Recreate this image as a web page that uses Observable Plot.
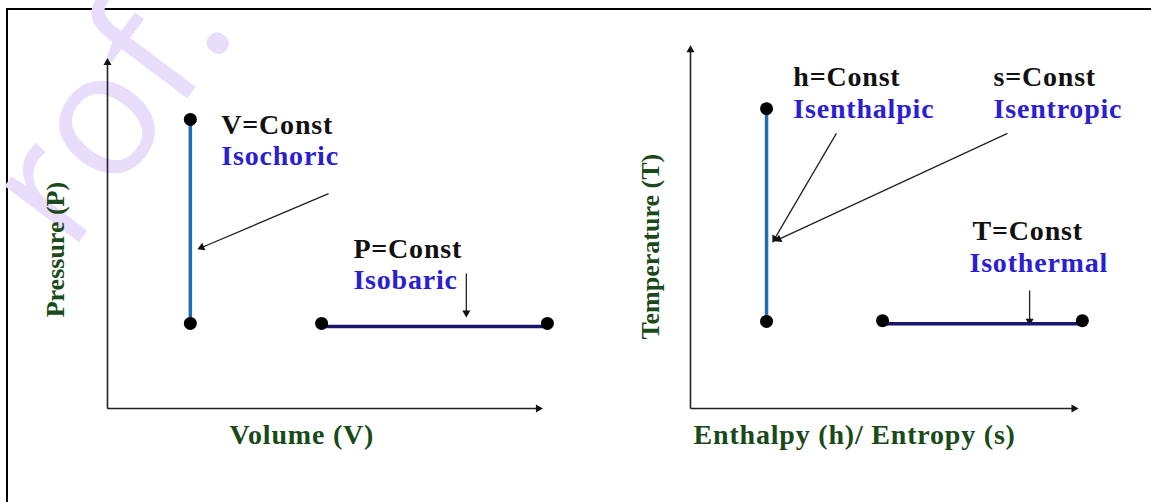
<!DOCTYPE html>
<html><head><meta charset="utf-8">
<script src="https://cdn.jsdelivr.net/npm/d3@7"></script>
<script src="https://cdn.jsdelivr.net/npm/@observablehq/plot@0.6"></script>
<style>
html,body{margin:0;padding:0;background:#fff;overflow:hidden}
#wrap{position:relative;width:1151px;height:502px;overflow:hidden;background:#fff}
#border{position:absolute;left:6px;top:8px;width:1300px;height:700px;border-left:2px solid #000;border-top:2px solid #000}
.panel{position:absolute;top:0}
</style></head><body>
<div id="wrap"><div id="border"></div><div id="left" class="panel" style="left:0"></div><div id="right" class="panel" style="left:575px"></div></div>
<script>
// ---------- data (diagram units: each axis runs 0..10) ----------
const axisArrows = [{x1:0,y1:0,x2:9.88,y2:0},{x1:0,y1:0,x2:0,y2:9.88}];

// P–V diagram
const pvIsochoric = [{x:1.9,y:2.43},{x:1.9,y:8.26}];
const pvIsobaric  = [{x:4.91,y:2.43},{x:10.09,y:2.43}];
const pvEquations = [{x:2.61,y:8.09,text:"V=Const"},{x:5.64,y:4.57,text:"P=Const"}];
const pvNames     = [{x:2.61,y:7.2,text:"Isochoric"},{x:5.64,y:3.66,text:"Isobaric"}];
const pvPointers  = [{x1:5.07,y1:6.14,x2:2.16,y2:4.6},{x1:8.23,y1:3.86,x2:8.23,y2:2.73}];
const pvXTitle    = [{x:2.8,y:-0.77,text:"Volume (V)"}];
const pvYTitle    = [{x:-1.19,y:4.54,text:"Pressure (P)"}];
const watermark   = [{x:0.05,y:8.57,text:"rof."}];

// T–(h/s) diagram
const tsIsentropic = [{x:1.96,y:2.4},{x:1.96,y:8.26}];
const tsIsothermal = [{x:4.95,y:2.42},{x:10.1,y:2.42}];
const tsEquations  = [{x:2.65,y:9.12,text:"h=Const"},{x:7.81,y:9.12,text:"s=Const"},{x:7.27,y:4.9,text:"T=Const"}];
const tsNames      = [{x:2.65,y:8.26,text:"Isenthalpic"},{x:7.81,y:8.26,text:"Isentropic"},{x:7.19,y:4.02,text:"Isothermal"}];
const tsPointers   = [{x1:3.76,y1:7.58,x2:2.17,y2:4.68},{x1:8.17,y1:7.58,x2:2.27,y2:4.66},{x1:8.74,y1:3.25,x2:8.74,y2:2.41}];
const tsXTitle     = [{x:0.08,y:-0.74,text:"Enthalpy (h)/ Entropy (s)"}];
const tsYTitle     = [{x:-1.03,y:4.46,text:"Temperature (T)"}];

// ---------- styles / layout ----------
const serif = "Liberation Serif, Times New Roman, serif";
const BLUE_TEXT = "#2a20d2", GREEN = "#1a4a1a", LINE_BLUE = "#1f6db3", NAVY = "#16166a";
const H = 502;

function heads(arrows, kx, ky) {
  return arrows.map(a => ({x:a.x2, y:a.y2,
    angle: Math.atan2((a.x2-a.x1)*kx, (a.y2-a.y1)*ky) * 180 / Math.PI}));
}

function diagram(cfg) {
  const {width, mL, mR, mT, mB} = cfg;
  const kx = (width - mL - mR) / 10, ky = (H - mT - mB) / 10;
  const allArrows = [...axisArrows, ...cfg.pointers];
  const textBase = {fontFamily: serif, fontWeight: "bold", fontSize: 28};
  const marks = [];
  if (cfg.watermark) marks.push(Plot.text(cfg.watermark, {x:"x", y:"y", text:"text", fontSize:174, fontFamily:"Open Sans", fill:"#e8defc", rotate:-53}));
  marks.push(
    Plot.link(axisArrows, {x1:"x1", y1:"y1", x2:"x2", y2:"y2", stroke:"#222", strokeWidth:1.6}),
    Plot.link(cfg.pointers, {x1:"x1", y1:"y1", x2:"x2", y2:"y2", stroke:"#222", strokeWidth:1.3}),
    Plot.dot(heads(allArrows, kx, ky), {x:"x", y:"y", rotate:"angle", symbol:"triangle", r:3, fill:"#111", stroke:null}),
    Plot.line(cfg.vertical, {x:"x", y:"y", stroke: LINE_BLUE, strokeWidth:3.5}),
    Plot.line(cfg.horizontal, {x:"x", y:"y", stroke: NAVY, strokeWidth:3.5, dy:3}),
    Plot.dot([...cfg.vertical, ...cfg.horizontal], {x:"x", y:"y", r:6.5, fill:"#000", stroke:null}),
    Plot.text(cfg.equations, {x:"x", y:"y", text:"text", textAnchor:"start", fill:"#111", ...textBase}),
    Plot.text(cfg.names, {x:"x", y:"y", text:"text", textAnchor:"start", fill:BLUE_TEXT, ...textBase}),
    Plot.text(cfg.xTitle, {x:"x", y:"y", text:"text", textAnchor:"start", fill:GREEN, ...textBase}),
    Plot.text(cfg.yTitle, {x:"x", y:"y", text:"text", textAnchor:"middle", rotate:-90, fill:GREEN, ...textBase, fontSize:26})
  );
  const svg = Plot.plot({
    width, height: H,
    marginLeft: mL, marginRight: mR, marginTop: mT, marginBottom: mB,
    x: {domain:[0,10], axis:null},
    y: {domain:[0,10], axis:null},
    style: {background:"transparent", overflow:"visible"},
    marks
  });
  d3.select(svg).selectAll("text").each(function() {
    const t = (this.getAttribute("transform") || "") + (this.parentNode.getAttribute("transform") || "");
    this.style.letterSpacing = t.includes("rotate") ? "0px" : "0.8px";
  });
  return svg;
}

document.getElementById("left").appendChild(diagram({
  width:575, mL:107, mR:32, mT:58, mB:94,
  watermark, pointers: pvPointers, vertical: pvIsochoric, horizontal: pvIsobaric,
  equations: pvEquations, names: pvNames, xTitle: pvXTitle, yTitle: pvYTitle
}));
document.getElementById("right").appendChild(diagram({
  width:576, mL:115, mR:73, mT:45, mB:94,
  pointers: tsPointers, vertical: tsIsentropic, horizontal: tsIsothermal,
  equations: tsEquations, names: tsNames, xTitle: tsXTitle, yTitle: tsYTitle
}));
</script>
</body></html>
